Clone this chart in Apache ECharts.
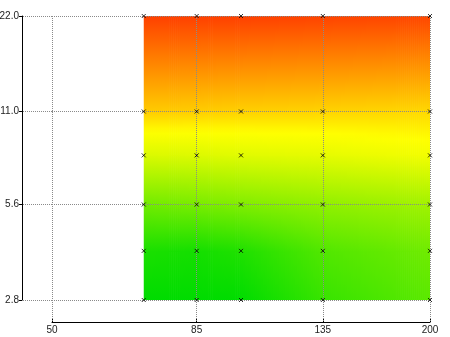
<!DOCTYPE html>
<html>
<head>
<meta charset="utf-8">
<script src="https://cdn.jsdelivr.net/npm/echarts@6/dist/echarts.min.js"></script>
<style>
  html, body { margin: 0; padding: 0; background: #fff; }
  #chart { width: 450px; height: 337px; }
</style>
</head>
<body>
<div id="chart"></div>
<script>
// ---- data ----
const xValues = [70, 85, 100, 135, 200];
const yValues = [2.8, 4, 5.6, 8, 11, 22];
// surface value (0 = green, ~0.69 = yellow, 1 = red) per y row, one entry per x column
const zAt2_8 = [0.00, 0.00, 0.00, 0.15, 0.245];
const zAt4   = [0.07, 0.055, 0.085, 0.22, 0.30];
const zAt5_6 = [0.303, 0.325, 0.346, 0.39, 0.433];
const zAt8   = [0.59, 0.595, 0.605, 0.62, 0.655];
const zAt11  = [0.773, 0.77, 0.765, 0.76, 0.753];
const zAt22  = [1.00, 1.00, 1.00, 0.995, 0.99];
const zRows = [zAt2_8, zAt4, zAt5_6, zAt8, zAt11, zAt22];

const xTicks = [50, 85, 135, 200];
const xTickLabels = ['50', '85', '135', '200'];
const yTicks = [2.8, 5.6, 11, 22];
const yTickLabels = ['2.8', '5.6', '11.0', '22.0'];

// ---- colour map ----
const yellowAt = 0.69;
function cmap(z) {
  z = Math.max(0, Math.min(1, z));
  let r, g;
  if (z <= yellowAt) { const t = z / yellowAt; r = 255 * t; g = 220 + 35 * t; }
  else { const t = (z - yellowAt) / (1 - yellowAt); r = 255; g = 255 - 191 * t; }
  return 'rgb(' + Math.round(r) + ',' + Math.round(g) + ',0)';
}

const nx = xValues.length, ny = yValues.length;
const points = [];
for (let j = 0; j < ny; j++) {
  for (let i = 0; i < nx; i++) points.push([xValues[i], yValues[j], zRows[j][i]]);
}

function renderCell(params, api) {
  const idx = params.dataIndex;
  const i = idx % nx, j = Math.floor(idx / nx);
  if (i >= nx - 1 || j >= ny - 1) return null;
  const pBL = api.coord([xValues[i], yValues[j]]);
  const pTR = api.coord([xValues[i + 1], yValues[j + 1]]);
  const zBL = zRows[j][i], zBR = zRows[j][i + 1], zTL = zRows[j + 1][i], zTR = zRows[j + 1][i + 1];
  const x0 = pBL[0], x1 = pTR[0], yb = pBL[1], yt = pTR[1];
  const w = x1 - x0;
  const n = Math.max(1, Math.ceil(w / 2));
  const children = [];
  for (let k = 0; k < n; k++) {
    const u = (k + 0.5) / n;
    const zb = zBL + (zBR - zBL) * u;
    const zt = zTL + (zTR - zTL) * u;
    const stops = [];
    for (let s = 0; s <= 8; s++) {
      const t = s / 8;
      stops.push({ offset: t, color: cmap(zt + (zb - zt) * t) });
    }
    const last = (i === nx - 2) && (k === n - 1);
    children.push({
      type: 'rect',
      silent: true,
      shape: { x: x0 + w * k / n, y: yt, width: w / n + (last ? 0 : 0.7), height: yb - yt + (j === 0 ? 0 : 0.7) },
      style: { fill: new echarts.graphic.LinearGradient(0, 0, 0, 1, stops) }
    });
  }
  return { type: 'group', children: children };
}

const gridColor = '#8a8a8a';
const labelFont = { fontFamily: 'Liberation Sans Narrow, Liberation Sans, Arial, sans-serif', fontSize: 10, color: '#222' };

const chart = echarts.init(document.getElementById('chart'), null, { renderer: 'canvas' });
chart.setOption({
  backgroundColor: '#fff',
  animation: false,
  grid: { left: 52, right: 20, top: 16, bottom: 37, containLabel: false, outerBoundsMode: 'none' },
  xAxis: [
    {
      type: 'log', logBase: 10, min: 50, max: 200, position: 'bottom', offset: 22, z: 5,
      axisLine: { show: true, lineStyle: { color: '#000', width: 1 } },
      axisTick: { show: true, inside: true, length: 3, customValues: xTicks, lineStyle: { color: '#000' } },
      axisLabel: Object.assign({ customValues: xTicks, margin: 3,
        formatter: function (v) { const k = xTicks.indexOf(v); return k >= 0 ? xTickLabels[k] : ''; } }, labelFont),
      splitLine: { show: true, lineStyle: { color: gridColor, width: 1, type: [1, 1] } },
      minorTick: { show: false }, minorSplitLine: { show: false }
    },
    {
      type: 'log', logBase: 10, min: 50, max: 200, position: 'bottom', offset: 0, z: 5,
      axisLine: { show: false },
      axisTick: { show: true, inside: false, length: 22, customValues: xTicks, lineStyle: { color: gridColor, type: [1, 1] } },
      axisLabel: { show: false },
      splitLine: { show: false }
    }
  ],
  yAxis: [
    {
      type: 'log', logBase: 10, min: 2.8, max: 22, position: 'left', offset: 30, z: 5,
      axisLine: { show: true, lineStyle: { color: '#000', width: 1 } },
      axisTick: { show: true, inside: false, length: 3, customValues: yTicks, lineStyle: { color: '#000' } },
      axisLabel: Object.assign({ customValues: yTicks, margin: 3,
        formatter: function (v) { const k = yTicks.indexOf(v); return k >= 0 ? yTickLabels[k] : ''; } }, labelFont),
      splitLine: { show: true, lineStyle: { color: gridColor, width: 1, type: [1, 1] } },
      minorTick: { show: false }, minorSplitLine: { show: false }
    },
    {
      type: 'log', logBase: 10, min: 2.8, max: 22, position: 'left', offset: 0, z: 5,
      axisLine: { show: false },
      axisTick: { show: true, inside: false, length: 30, customValues: yTicks, lineStyle: { color: gridColor, type: [1, 1] } },
      axisLabel: { show: false },
      splitLine: { show: false }
    }
  ],
  series: [
    {
      type: 'custom', xAxisIndex: 0, yAxisIndex: 0, z: 2, silent: true,
      renderItem: renderCell,
      encode: { x: 0, y: 1 },
      data: points
    },
    {
      type: 'scatter', xAxisIndex: 0, yAxisIndex: 0, z: 10, silent: true,
      symbol: 'path://M0,0L4,4M4,0L0,4', symbolSize: 4,
      itemStyle: { color: 'rgba(0,0,0,0)', borderColor: '#000', borderWidth: 1 },
      data: points.map(p => [p[0], p[1]])
    }
  ]
});
</script>
</body>
</html>
